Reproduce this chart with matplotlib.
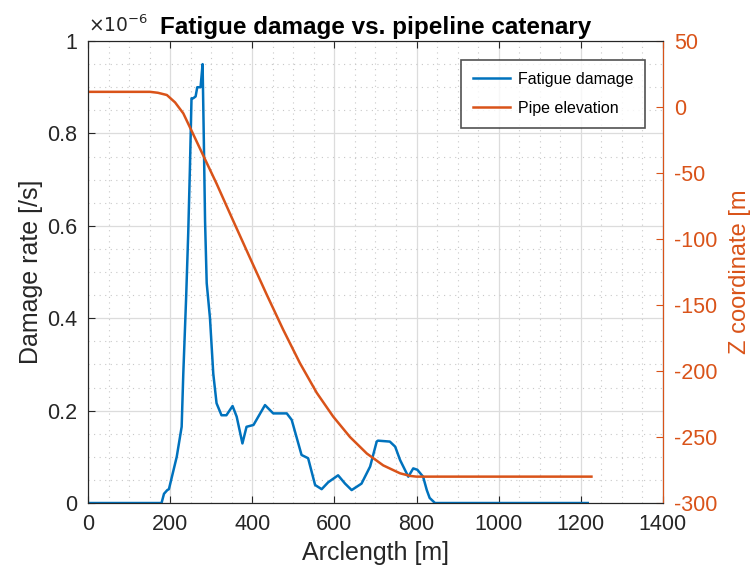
import numpy as np
import matplotlib.pyplot as plt
from matplotlib.ticker import MultipleLocator

plt.rcParams['font.family'] = ['Liberation Sans', 'DejaVu Sans']
plt.rcParams['axes.unicode_minus'] = False

blue = '#0072BD'
orange = '#D95319'
txt = '#262626'

# fatigue damage rate along arclength (units of 1e-6 /s)
arc_dmg = [0, 179, 185, 193, 197, 216, 228, 232, 239, 244, 248, 252, 256, 262, 266, 274, 279,
           282, 285, 289, 297, 305, 313, 325, 337, 352, 362, 376, 386, 403, 431, 451,
           484, 496, 520, 536, 553, 569, 585, 609, 626, 642, 666, 687, 703, 706, 735,
           748, 760, 780, 792, 802, 816, 825, 832, 845, 1217]
damage = [0, 0, 0.02, 0.028, 0.03, 0.10, 0.165, 0.28, 0.447, 0.584, 0.72, 0.876, 0.876, 0.88,
          0.90, 0.90, 0.95, 0.786, 0.61, 0.476, 0.40, 0.28, 0.216, 0.19, 0.19, 0.21, 0.187,
          0.129, 0.165, 0.169, 0.212, 0.194, 0.194, 0.18, 0.104, 0.097, 0.039, 0.03,
          0.045, 0.06, 0.042, 0.028, 0.042, 0.079, 0.133, 0.135, 0.133, 0.122, 0.093,
          0.057, 0.075, 0.072, 0.057, 0.028, 0.011, 0, 0]

# pipe elevation along arclength
arc_z = [0, 151, 170, 192, 212, 232, 256, 281, 313, 354, 394, 435, 475, 516, 557,
         597, 638, 679, 719, 760, 785, 800, 1226]
elev = [11.5, 11.5, 10.8, 9.1, 3.5, -4.8, -20.5, -37, -58, -86.5, -114, -142, -168.5,
        -194, -216.5, -234.5, -250, -262.5, -271.5, -277.5, -279.5, -280, -280]

fig = plt.figure(figsize=(7.55, 5.77), dpi=100)
ax = fig.add_axes([0.1166, 0.1282, 0.7614, 0.8007])
ax2 = ax.twinx()

l1, = ax.plot(arc_dmg, damage, color=blue, lw=1.8, label='Fatigue damage')
l2, = ax2.plot(arc_z, elev, color=orange, lw=1.8, label='Pipe elevation')

ax.set_xlim(0, 1400)
ax.set_ylim(0, 1)
ax2.set_ylim(-300, 50)
ax.xaxis.set_major_locator(MultipleLocator(200))
ax.xaxis.set_minor_locator(MultipleLocator(50))
ax.yaxis.set_minor_locator(MultipleLocator(0.05))
ax.set_yticks([0, 0.2, 0.4, 0.6, 0.8, 1])
ax.set_yticklabels(['0', '0.2', '0.4', '0.6', '0.8', '1'])
ax2.yaxis.set_major_locator(MultipleLocator(50))

ax.grid(True, which='major', color='#dcdcdc', lw=0.9)
ax.grid(True, which='minor', color='#c8c8c8', lw=0.8, ls=(0, (1, 4)))
ax.set_axisbelow(True)

ax.tick_params(which='both', direction='in', top=True, labelsize=15.5, colors=txt)
ax.tick_params(which='minor', length=0)
ax.tick_params(which='major', length=5)
ax.tick_params(axis='x', pad=8)
ax.tick_params(axis='y', pad=8)
ax2.tick_params(which='both', direction='in', labelsize=15.5, colors=orange, length=5, pad=8)
ax2.tick_params(which='minor', length=0)

for s in ['left', 'bottom', 'top']:
    ax.spines[s].set_color(txt)
ax2.spines['right'].set_color(orange)
ax2.spines['left'].set_color(txt)
ax2.spines['top'].set_color(txt)
ax2.spines['bottom'].set_color(txt)

ax.set_xlabel('Arclength [m]', fontsize=18, color=txt, labelpad=4)
ax.set_ylabel('Damage rate [/s]', fontsize=18, color=txt, labelpad=3)
ax2.set_ylabel('Z coordinate [m', fontsize=17, color=orange, rotation=90)
ax2.yaxis.set_label_coords(1.1145, 0.5)

ax.text(0.0, 1.01, r'$\times 10^{\mathrm{-6}}$', transform=ax.transAxes, fontsize=13.5,
        color=txt, ha='left', va='bottom')
ax.set_title('Fatigue damage vs. pipeline catenary', fontsize=17.5, fontweight='bold',
             color='black', pad=5)

leg = ax2.legend(handles=[l1, l2], loc='upper right', bbox_to_anchor=(0.969, 0.959),
                 borderaxespad=0, frameon=True, fancybox=False, edgecolor='#262626',
                 prop={'size': 11.5}, handlelength=2.3, handletextpad=0.5,
                 borderpad=0.75, labelspacing=0.85)
leg.get_frame().set_linewidth(1.2)

fig.savefig('out.png', dpi=100)
